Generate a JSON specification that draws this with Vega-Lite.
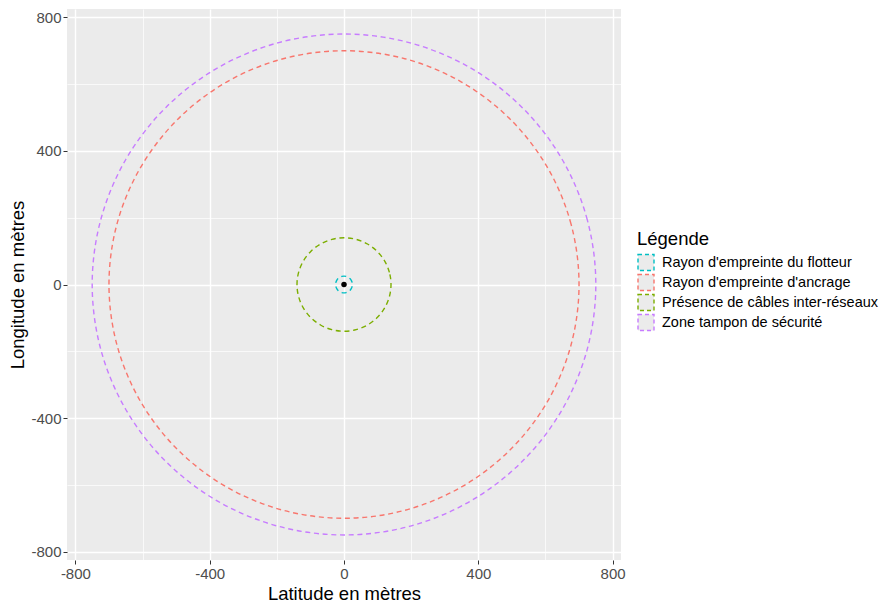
{
  "$schema": "https://vega.github.io/schema/vega-lite/v6.json",
  "width": 554,
  "height": 551,
  "autosize": {"type": "none"},
  "padding": {"left": 67, "top": 9, "right": 272, "bottom": 43},
  "background": "white",
  "config": {
    "font": "Liberation Sans",
    "view": {"fill": "#EBEBEB", "stroke": null},
    "axis": {
      "domain": false,
      "grid": true,
      "gridColor": "white",
      "tickColor": "#333333",
      "tickSize": 4,
      "tickWidth": 1,
      "labelColor": "#4D4D4D",
      "labelFontSize": 15,
      "labelPadding": 2,
      "titleFontSize": 18.5,
      "titleColor": "black",
      "titleFontWeight": "normal"
    },
    "legend": {
      "orient": "none",
      "legendX": 570,
      "legendY": 221,
      "titleFontSize": 18.5,
      "titleColor": "black",
      "titleFontWeight": "normal",
      "titlePadding": 5,
      "labelFontSize": 14.5,
      "labelColor": "black",
      "labelOffset": 7,
      "labelLimit": 400,
      "symbolType": "square",
      "symbolSize": 256,
      "symbolStrokeWidth": 1.4,
      "symbolDash": [4, 3],
      "symbolFillColor": "#EBEBEB"
    }
  },
  "datasets": {
    "circles": [
      {"zone": "Rayon d'empreinte du flotteur", "i": 0, "x": 25, "y": 0},
      {"zone": "Rayon d'empreinte du flotteur", "i": 1, "x": 24.15, "y": 6.47},
      {"zone": "Rayon d'empreinte du flotteur", "i": 2, "x": 21.65, "y": 12.5},
      {"zone": "Rayon d'empreinte du flotteur", "i": 3, "x": 17.68, "y": 17.68},
      {"zone": "Rayon d'empreinte du flotteur", "i": 4, "x": 12.5, "y": 21.65},
      {"zone": "Rayon d'empreinte du flotteur", "i": 5, "x": 6.47, "y": 24.15},
      {"zone": "Rayon d'empreinte du flotteur", "i": 6, "x": 0, "y": 25},
      {"zone": "Rayon d'empreinte du flotteur", "i": 7, "x": -6.47, "y": 24.15},
      {"zone": "Rayon d'empreinte du flotteur", "i": 8, "x": -12.5, "y": 21.65},
      {"zone": "Rayon d'empreinte du flotteur", "i": 9, "x": -17.68, "y": 17.68},
      {"zone": "Rayon d'empreinte du flotteur", "i": 10, "x": -21.65, "y": 12.5},
      {"zone": "Rayon d'empreinte du flotteur", "i": 11, "x": -24.15, "y": 6.47},
      {"zone": "Rayon d'empreinte du flotteur", "i": 12, "x": -25, "y": 0},
      {"zone": "Rayon d'empreinte du flotteur", "i": 13, "x": -24.15, "y": -6.47},
      {"zone": "Rayon d'empreinte du flotteur", "i": 14, "x": -21.65, "y": -12.5},
      {"zone": "Rayon d'empreinte du flotteur", "i": 15, "x": -17.68, "y": -17.68},
      {"zone": "Rayon d'empreinte du flotteur", "i": 16, "x": -12.5, "y": -21.65},
      {"zone": "Rayon d'empreinte du flotteur", "i": 17, "x": -6.47, "y": -24.15},
      {"zone": "Rayon d'empreinte du flotteur", "i": 18, "x": 0, "y": -25},
      {"zone": "Rayon d'empreinte du flotteur", "i": 19, "x": 6.47, "y": -24.15},
      {"zone": "Rayon d'empreinte du flotteur", "i": 20, "x": 12.5, "y": -21.65},
      {"zone": "Rayon d'empreinte du flotteur", "i": 21, "x": 17.68, "y": -17.68},
      {"zone": "Rayon d'empreinte du flotteur", "i": 22, "x": 21.65, "y": -12.5},
      {"zone": "Rayon d'empreinte du flotteur", "i": 23, "x": 24.15, "y": -6.47},

      {"zone": "Rayon d'empreinte d'ancrage", "i": 0, "x": 700, "y": 0},
      {"zone": "Rayon d'empreinte d'ancrage", "i": 1, "x": 676.15, "y": 181.17},
      {"zone": "Rayon d'empreinte d'ancrage", "i": 2, "x": 606.22, "y": 350},
      {"zone": "Rayon d'empreinte d'ancrage", "i": 3, "x": 494.97, "y": 494.97},
      {"zone": "Rayon d'empreinte d'ancrage", "i": 4, "x": 350, "y": 606.22},
      {"zone": "Rayon d'empreinte d'ancrage", "i": 5, "x": 181.17, "y": 676.15},
      {"zone": "Rayon d'empreinte d'ancrage", "i": 6, "x": 0, "y": 700},
      {"zone": "Rayon d'empreinte d'ancrage", "i": 7, "x": -181.17, "y": 676.15},
      {"zone": "Rayon d'empreinte d'ancrage", "i": 8, "x": -350, "y": 606.22},
      {"zone": "Rayon d'empreinte d'ancrage", "i": 9, "x": -494.97, "y": 494.97},
      {"zone": "Rayon d'empreinte d'ancrage", "i": 10, "x": -606.22, "y": 350},
      {"zone": "Rayon d'empreinte d'ancrage", "i": 11, "x": -676.15, "y": 181.17},
      {"zone": "Rayon d'empreinte d'ancrage", "i": 12, "x": -700, "y": 0},
      {"zone": "Rayon d'empreinte d'ancrage", "i": 13, "x": -676.15, "y": -181.17},
      {"zone": "Rayon d'empreinte d'ancrage", "i": 14, "x": -606.22, "y": -350},
      {"zone": "Rayon d'empreinte d'ancrage", "i": 15, "x": -494.97, "y": -494.97},
      {"zone": "Rayon d'empreinte d'ancrage", "i": 16, "x": -350, "y": -606.22},
      {"zone": "Rayon d'empreinte d'ancrage", "i": 17, "x": -181.17, "y": -676.15},
      {"zone": "Rayon d'empreinte d'ancrage", "i": 18, "x": 0, "y": -700},
      {"zone": "Rayon d'empreinte d'ancrage", "i": 19, "x": 181.17, "y": -676.15},
      {"zone": "Rayon d'empreinte d'ancrage", "i": 20, "x": 350, "y": -606.22},
      {"zone": "Rayon d'empreinte d'ancrage", "i": 21, "x": 494.97, "y": -494.97},
      {"zone": "Rayon d'empreinte d'ancrage", "i": 22, "x": 606.22, "y": -350},
      {"zone": "Rayon d'empreinte d'ancrage", "i": 23, "x": 676.15, "y": -181.17},

      {"zone": "Présence de câbles inter-réseaux", "i": 0, "x": 140, "y": 0},
      {"zone": "Présence de câbles inter-réseaux", "i": 1, "x": 135.23, "y": 36.23},
      {"zone": "Présence de câbles inter-réseaux", "i": 2, "x": 121.24, "y": 70},
      {"zone": "Présence de câbles inter-réseaux", "i": 3, "x": 98.99, "y": 98.99},
      {"zone": "Présence de câbles inter-réseaux", "i": 4, "x": 70, "y": 121.24},
      {"zone": "Présence de câbles inter-réseaux", "i": 5, "x": 36.23, "y": 135.23},
      {"zone": "Présence de câbles inter-réseaux", "i": 6, "x": 0, "y": 140},
      {"zone": "Présence de câbles inter-réseaux", "i": 7, "x": -36.23, "y": 135.23},
      {"zone": "Présence de câbles inter-réseaux", "i": 8, "x": -70, "y": 121.24},
      {"zone": "Présence de câbles inter-réseaux", "i": 9, "x": -98.99, "y": 98.99},
      {"zone": "Présence de câbles inter-réseaux", "i": 10, "x": -121.24, "y": 70},
      {"zone": "Présence de câbles inter-réseaux", "i": 11, "x": -135.23, "y": 36.23},
      {"zone": "Présence de câbles inter-réseaux", "i": 12, "x": -140, "y": 0},
      {"zone": "Présence de câbles inter-réseaux", "i": 13, "x": -135.23, "y": -36.23},
      {"zone": "Présence de câbles inter-réseaux", "i": 14, "x": -121.24, "y": -70},
      {"zone": "Présence de câbles inter-réseaux", "i": 15, "x": -98.99, "y": -98.99},
      {"zone": "Présence de câbles inter-réseaux", "i": 16, "x": -70, "y": -121.24},
      {"zone": "Présence de câbles inter-réseaux", "i": 17, "x": -36.23, "y": -135.23},
      {"zone": "Présence de câbles inter-réseaux", "i": 18, "x": 0, "y": -140},
      {"zone": "Présence de câbles inter-réseaux", "i": 19, "x": 36.23, "y": -135.23},
      {"zone": "Présence de câbles inter-réseaux", "i": 20, "x": 70, "y": -121.24},
      {"zone": "Présence de câbles inter-réseaux", "i": 21, "x": 98.99, "y": -98.99},
      {"zone": "Présence de câbles inter-réseaux", "i": 22, "x": 121.24, "y": -70},
      {"zone": "Présence de câbles inter-réseaux", "i": 23, "x": 135.23, "y": -36.23},

      {"zone": "Zone tampon de sécurité", "i": 0, "x": 750, "y": 0},
      {"zone": "Zone tampon de sécurité", "i": 1, "x": 724.44, "y": 194.11},
      {"zone": "Zone tampon de sécurité", "i": 2, "x": 649.52, "y": 375},
      {"zone": "Zone tampon de sécurité", "i": 3, "x": 530.33, "y": 530.33},
      {"zone": "Zone tampon de sécurité", "i": 4, "x": 375, "y": 649.52},
      {"zone": "Zone tampon de sécurité", "i": 5, "x": 194.11, "y": 724.44},
      {"zone": "Zone tampon de sécurité", "i": 6, "x": 0, "y": 750},
      {"zone": "Zone tampon de sécurité", "i": 7, "x": -194.11, "y": 724.44},
      {"zone": "Zone tampon de sécurité", "i": 8, "x": -375, "y": 649.52},
      {"zone": "Zone tampon de sécurité", "i": 9, "x": -530.33, "y": 530.33},
      {"zone": "Zone tampon de sécurité", "i": 10, "x": -649.52, "y": 375},
      {"zone": "Zone tampon de sécurité", "i": 11, "x": -724.44, "y": 194.11},
      {"zone": "Zone tampon de sécurité", "i": 12, "x": -750, "y": 0},
      {"zone": "Zone tampon de sécurité", "i": 13, "x": -724.44, "y": -194.11},
      {"zone": "Zone tampon de sécurité", "i": 14, "x": -649.52, "y": -375},
      {"zone": "Zone tampon de sécurité", "i": 15, "x": -530.33, "y": -530.33},
      {"zone": "Zone tampon de sécurité", "i": 16, "x": -375, "y": -649.52},
      {"zone": "Zone tampon de sécurité", "i": 17, "x": -194.11, "y": -724.44},
      {"zone": "Zone tampon de sécurité", "i": 18, "x": 0, "y": -750},
      {"zone": "Zone tampon de sécurité", "i": 19, "x": 194.11, "y": -724.44},
      {"zone": "Zone tampon de sécurité", "i": 20, "x": 375, "y": -649.52},
      {"zone": "Zone tampon de sécurité", "i": 21, "x": 530.33, "y": -530.33},
      {"zone": "Zone tampon de sécurité", "i": 22, "x": 649.52, "y": -375},
      {"zone": "Zone tampon de sécurité", "i": 23, "x": 724.44, "y": -194.11}
    ],
    "center": [{"x": 0, "y": 0}]
  },
  "layer": [
    {
      "data": {"name": "circles"},
      "mark": {"type": "line", "interpolate": "cardinal-closed", "strokeDash": [5, 3.7], "strokeWidth": 1.4, "clip": true},
      "encoding": {
        "x": {
          "field": "x", "type": "quantitative",
          "scale": {"domain": [-825, 825], "nice": false, "zero": false},
          "axis": {
            "title": "Latitude en mètres",
            "values": [-800, -600, -400, -200, 0, 200, 400, 600, 800],
            "labelExpr": "datum.value % 400 === 0 ? '' + datum.value : ''",
            "gridWidth": {"condition": {"test": "datum.value % 400 === 0", "value": 1.4}, "value": 0.7},
            "tickOpacity": {"condition": {"test": "datum.value % 400 === 0", "value": 1}, "value": 0},
            "titlePadding": 3
          }
        },
        "y": {
          "field": "y", "type": "quantitative",
          "scale": {"domain": [-825, 825], "nice": false, "zero": false},
          "axis": {
            "title": "Longitude en mètres",
            "values": [-800, -600, -400, -200, 0, 200, 400, 600, 800],
            "labelExpr": "datum.value % 400 === 0 ? '' + datum.value : ''",
            "gridWidth": {"condition": {"test": "datum.value % 400 === 0", "value": 1.4}, "value": 0.7},
            "tickOpacity": {"condition": {"test": "datum.value % 400 === 0", "value": 1}, "value": 0},
            "titlePadding": 3
          }
        },
        "color": {
          "field": "zone", "type": "nominal",
          "scale": {
            "domain": ["Rayon d'empreinte du flotteur", "Rayon d'empreinte d'ancrage", "Présence de câbles inter-réseaux", "Zone tampon de sécurité"],
            "range": ["#00BFC4", "#F8766D", "#7CAE00", "#C77CFF"]
          },
          "legend": {
            "title": "Légende",
            "rowPadding": -3,
            "symbolSize": 256,
            "labelLimit": 400,
            "encode": {"symbols": {"update": {"fill": {"value": "#EBEBEB"}, "strokeDash": {"value": [4, 3]}}}}
          }
        },
        "order": {"field": "i", "type": "quantitative"}
      }
    },
    {
      "data": {"name": "center"},
      "mark": {"type": "point", "filled": true, "color": "black", "size": 30, "opacity": 1},
      "encoding": {
        "x": {"field": "x", "type": "quantitative"},
        "y": {"field": "y", "type": "quantitative"}
      }
    }
  ]
}
